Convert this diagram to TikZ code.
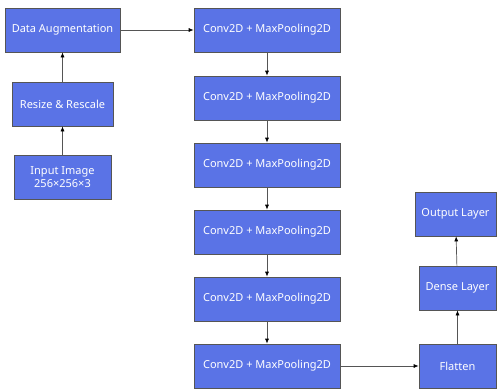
\documentclass[tikz,border=0pt]{standalone}
\usepackage{fontspec}
\setmainfont{Noto Sans}
\usetikzlibrary{arrows.meta}
\definecolor{boxblue}{RGB}{90,115,230}
\definecolor{edgegray}{RGB}{85,85,85}
\tikzset{
  blk/.style={draw=edgegray, line width=0.7pt, fill=boxblue, text=white, font=\fontsize{11}{13}\selectfont, align=center, inner sep=0pt},
  conn/.style={draw=edgegray, line width=0.7pt, -{Latex[length=5pt,width=4pt,black]}}
}
\begin{document}
\begin{tikzpicture}[x=1pt,y=1pt]
\useasboundingbox (0,0) rectangle (497,-389);
% helper: node from corner coordinates
\newcommand{\blkbox}[6]{%
  \node[blk, minimum width=#4-#2, minimum height=#5-#3] (#1) at ({(#2+#4)/2},{-(#3+#5)/2}) {#6};}
\blkbox{aug}{5}{8}{120}{52}{Data Augmentation}
\blkbox{res}{12}{82}{113}{126}{Resize \& Rescale}
\blkbox{inp}{14}{155}{111}{199}{Input Image\\256×256×3}
\blkbox{c1}{194}{8}{340}{52}{Conv2D + MaxPooling2D}
\blkbox{c2}{194}{76}{340}{120}{Conv2D + MaxPooling2D}
\blkbox{c3}{194}{143}{340}{187}{Conv2D + MaxPooling2D}
\blkbox{c4}{194}{210}{340}{254}{Conv2D + MaxPooling2D}
\blkbox{c5}{194}{277}{340}{321}{Conv2D + MaxPooling2D}
\blkbox{c6}{194}{344}{340}{388}{Conv2D + MaxPooling2D}
\blkbox{fl}{419}{344}{496}{388}{Flatten}
\blkbox{dn}{419}{266}{496}{310}{Dense Layer}
\blkbox{out}{415}{192}{496}{236}{Output Layer}
\draw[conn] (inp) -- (res);
\draw[conn] (res) -- (aug);
\draw[conn] (aug) -- (c1);
\draw[conn] (c1) -- (c2);
\draw[conn] (c2) -- (c3);
\draw[conn] (c3) -- (c4);
\draw[conn] (c4) -- (c5);
\draw[conn] (c5) -- (c6);
\draw[conn] (c6) -- (fl);
\draw[conn] (fl) -- (dn);
\draw[conn] (dn) -- (out);
\end{tikzpicture}
\end{document}
